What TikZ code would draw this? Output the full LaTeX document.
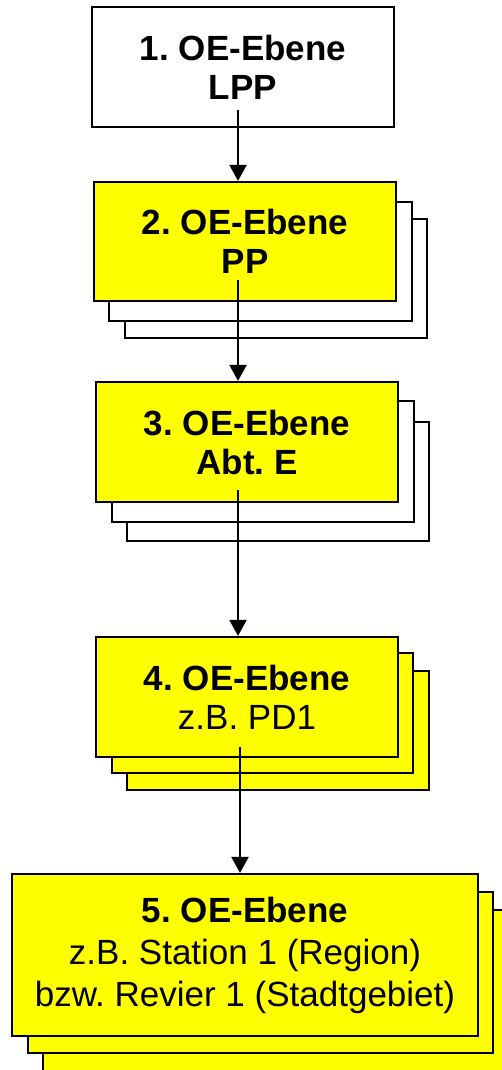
\documentclass[tikz,border=0pt]{standalone}
\usepackage{fontspec}
\setmainfont{Liberation Sans}
\usetikzlibrary{arrows.meta}
\definecolor{boxyellow}{RGB}{255,255,0}
\frenchspacing

\begin{document}
\begin{tikzpicture}[x=1pt, y=-1pt,
    box/.style={draw, line width=2.2pt, fill=white, inner sep=0pt, align=center,
      minimum width=302pt, font=\fontsize{35}{39}\selectfont},
    ybox/.style={box, fill=boxyellow},
    back/.style={draw, line width=2.2pt, fill=white},
    yback/.style={back, fill=boxyellow},
    conn/.style={line width=2pt, -{Triangle[width=17pt,length=16pt]}}]

    \clip (0,0) rectangle (502,1070);
    \useasboundingbox (0,0) rectangle (502,1070);

    % Level 1
    \node[box, minimum height=120pt] (b1) at (243,67) {\textbf{1. OE-Ebene}\\\textbf{LPP}};

    % Level 2
    \draw[back] (125,219) rectangle (427,338);
    \draw[back] (109,202) rectangle (412,321);
    \node[ybox, minimum height=119pt] (b2) at (245,241.5) {\textbf{2. OE-Ebene}\\\textbf{PP}};

    % Level 3
    \draw[back] (127,422) rectangle (429,541);
    \draw[back] (112,401) rectangle (414,522);
    \node[ybox, minimum height=120pt] (b3) at (247,442) {\textbf{3. OE-Ebene}\\\textbf{Abt. E}};

    % Level 4
    \draw[yback] (127,671) rectangle (429,790);
    \draw[yback] (112,653) rectangle (413,773);
    \node[ybox, minimum height=120pt] (b4) at (247,697) {\textbf{4. OE-Ebene}\\z.B. PD1};

    % Level 5
    \draw[yback] (43,910) rectangle (510,1080);
    \draw[yback] (28,892) rectangle (493,1053);
    \node[ybox, minimum width=466pt, minimum height=162pt, font=\fontsize{35}{42}\selectfont] (b5) at (245,955)
      {\textbf{5. OE-Ebene}\\z.B. Station 1 (Region)\\bzw. Revier 1 (Stadtgebiet)};

    % Connectors
    \coordinate (s1) at (238,110);
    \coordinate (s2) at (238,280);
    \coordinate (s3) at (238,490);
    \coordinate (s4) at (240,747);
    \draw[conn] (s1) -- (s1 |- b2.north);
    \draw[conn] (s2) -- (s2 |- b3.north);
    \draw[conn] (s3) -- (s3 |- b4.north);
    \draw[conn] (s4) -- (s4 |- b5.north);

  \end{tikzpicture}
\end{document}
